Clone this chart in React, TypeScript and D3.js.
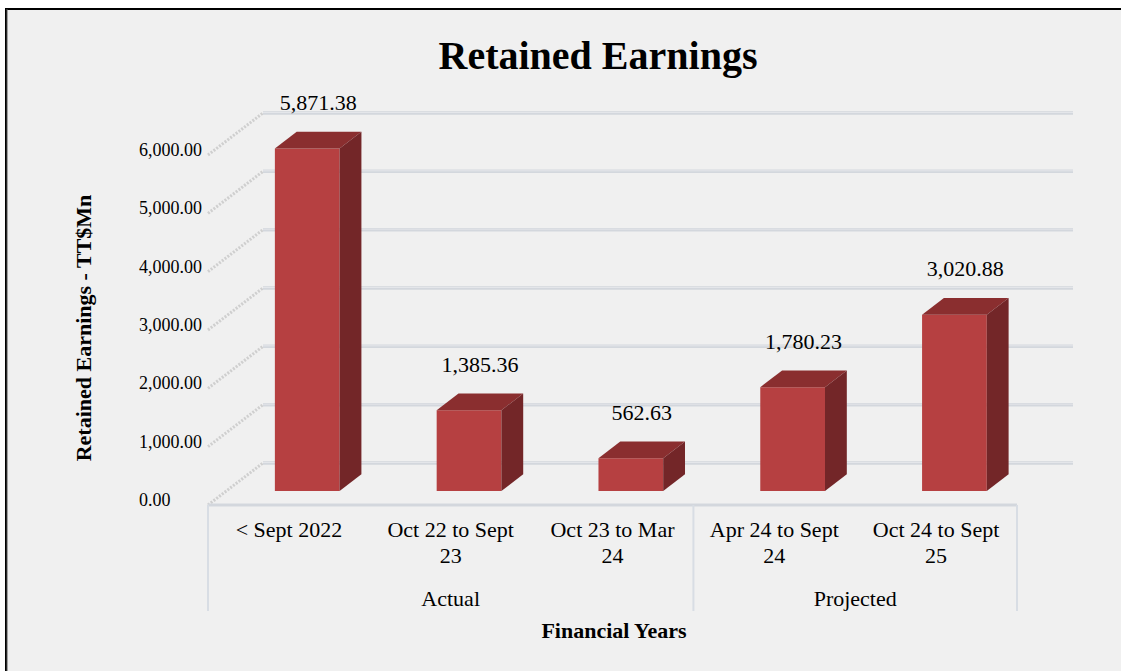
import React from "react";
import * as d3 from "d3";

const categories = ["< Sept 2022", "Oct 22 to Sept 23", "Oct 23 to Mar 24", "Apr 24 to Sept 24", "Oct 24 to Sept 25"];
const categoryLines = [["< Sept 2022"], ["Oct 22 to Sept", "23"], ["Oct 23 to Mar", "24"], ["Apr 24 to Sept", "24"], ["Oct 24 to Sept", "25"]];
const values = [5871.38, 1385.36, 562.63, 1780.23, 3020.88];
const groups = [
  { name: "Actual", from: 0, to: 3 },
  { name: "Projected", from: 3, to: 5 },
];
const yTicks = [0, 1000, 2000, 3000, 4000, 5000, 6000];

const W = 1121;
const H = 671;
const FONT = "'Liberation Serif', 'Times New Roman', serif";

export default function App() {
  const floorLeft = 208;
  const floorRight = 1017;
  const floorY = 505;
  const depthDx = 55;
  const depthDy = -42;
  const x = d3.scaleBand<string>().domain(categories).range([floorLeft, floorRight]).padding(0);
  const y = d3.scaleLinear().domain([0, 6000]).range([0, 350]);
  const fmt = d3.format(",.2f");

  const P = (fx: number, v: number, d: number): [number, number] => [fx + d * depthDx, floorY + d * depthDy - y(v)];
  const pts = (arr: [number, number][]) => arr.map((p) => p.join(",")).join(" ");

  const bw = x.bandwidth();
  const d0 = 1 / 3;
  const d1 = 0.73;

  return (
    <svg width={W} height={H} style={{ position: "absolute", left: 0, top: 0 }} xmlns="http://www.w3.org/2000/svg">
      <rect x={0} y={0} width={W} height={H} fill="#ffffff" />
      <rect x={6} y={9} width={W + 10} height={H + 10} fill="#f0f0f0" stroke="#000" strokeWidth={2} />
      <line x1={7} y1={9} x2={7} y2={H} stroke="#555" strokeWidth={1} />

      <text x={598} y={69} textAnchor="middle" fontFamily={FONT} fontWeight="bold" fontSize={40} fill="#000">
        Retained Earnings
      </text>

      {yTicks.map((t) => {
        const a = P(floorLeft, t, 0);
        const b = P(floorLeft, t, 1);
        const c = P(floorRight, t, 1);
        return (
          <g key={t}>
            <line x1={a[0]} y1={a[1]} x2={b[0]} y2={b[1]} stroke="#cfcfcf" strokeWidth={3} strokeDasharray="2 1.5" />
            <line x1={b[0]} y1={b[1]} x2={c[0] + 1} y2={c[1]} stroke="#d3d7dd" strokeWidth={3.5} />
            <line x1={b[0]} y1={b[1] - 0.5} x2={c[0] + 1} y2={c[1] - 0.5} stroke="#e4e6ea" strokeWidth={1} />
          </g>
        );
      })}

      <line x1={floorLeft} y1={floorY} x2={floorRight} y2={floorY} stroke="#d3d7dd" strokeWidth={3} />

      {[0, 3, 5].map((i) => {
        const xx = i < 5 ? (x(categories[i]) as number) : floorRight;
        return <line key={i} x1={xx} y1={floorY} x2={xx} y2={611} stroke="#d8dde4" strokeWidth={2} />;
      })}

      {yTicks.map((t) => {
        const a = P(floorLeft, t, 0);
        return (
          <text key={t} x={139} y={a[1] - 3} dominantBaseline="middle" fontFamily={FONT} fontSize={18} fill="#000">
            {fmt(t)}
          </text>
        );
      })}

      {categories.map((c, i) => {
        const v = values[i];
        const xl = (x(c) as number) + bw * 0.3;
        const xr = xl + bw * 0.4;
        const fBL = P(xl, 0, d0);
        const fBR = P(xr, 0, d0);
        const fTL = P(xl, v, d0);
        const fTR = P(xr, v, d0);
        const bTL = P(xl, v, d1);
        const bTR = P(xr, v, d1);
        const bBR = P(xr, 0, d1);
        const labelX = (fTL[0] + bTR[0]) / 2;
        const labelY = bTR[1] - 27;
        return (
          <g key={c}>
            <polygon points={pts([fBL, fBR, fTR, fTL])} fill="#b64041" />
            <polygon points={pts([fTL, fTR, bTR, bTL])} fill="#8a2e2f" />
            <polygon points={pts([fBR, bBR, bTR, fTR])} fill="#732628" />
            <text x={labelX} y={labelY} textAnchor="middle" dominantBaseline="middle" fontFamily={FONT} fontSize={22} fill="#000">
              {fmt(v)}
            </text>
          </g>
        );
      })}

      {categories.map((c, i) => {
        const cx = (x(c) as number) + bw / 2;
        return (
          <text key={c} textAnchor="middle" fontFamily={FONT} fontSize={22} fill="#000">
            {categoryLines[i].map((ln, j) => (
              <tspan key={j} x={cx} y={532 + j * 26} dominantBaseline="middle">
                {ln}
              </tspan>
            ))}
          </text>
        );
      })}

      {groups.map((g) => {
        const x0 = x(categories[g.from]) as number;
        const x1 = g.to < categories.length ? (x(categories[g.to]) as number) : floorRight;
        return (
          <text key={g.name} x={(x0 + x1) / 2} y={601} textAnchor="middle" dominantBaseline="middle" fontFamily={FONT} fontSize={22} fill="#000">
            {g.name}
          </text>
        );
      })}

      <text x={614} y={633} textAnchor="middle" dominantBaseline="middle" fontFamily={FONT} fontWeight="bold" fontSize={22} fill="#000">
        Financial Years
      </text>

      <text transform="translate(86,328) rotate(-90)" textAnchor="middle" dominantBaseline="middle" fontFamily={FONT} fontWeight="bold" fontSize={22} fill="#000">
        Retained Earnings - TT$Mn
      </text>
    </svg>
  );
}
